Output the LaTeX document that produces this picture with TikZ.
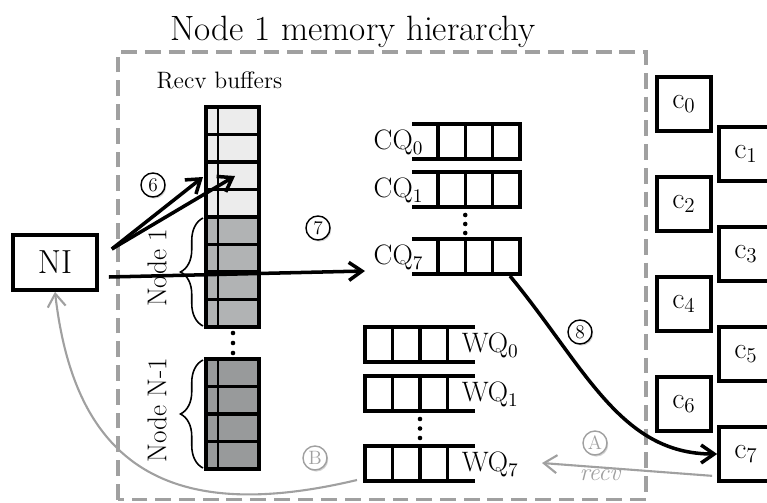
\documentclass[tikz,border=0pt]{standalone}
\usepackage{tikz}
\usetikzlibrary{calc,arrows.meta,decorations.pathreplacing,shadows}
\definecolor{bufA}{RGB}{236,236,236}
\definecolor{bufB}{RGB}{177,179,180}
\definecolor{bufC}{RGB}{152,154,155}
\definecolor{lineas}{RGB}{160,160,160}

\begin{document}
\begin{tikzpicture}[line width=2pt,>={Straight Barb[length=2.6mm,width=3.6mm]},
  caja/.style={draw,line width=2.1pt,minimum width=1.08cm,minimum height=1.08cm,inner sep=0pt,font=\fontsize{17}{17}\selectfont},
  paso/.style={circle,draw,line width=0.8pt,fill=white,inner sep=0pt,minimum size=0.48cm,font=\fontsize{11}{11}\selectfont,drop shadow={opacity=0.35,shadow xshift=0.7pt,shadow yshift=-0.9pt}},
  pasogris/.style={paso,draw=lineas,text=lineas},
  celda/.style={draw,line width=2pt},
  etiq/.style={inner sep=0pt,font=\fontsize{16}{16}\selectfont},
  llave/.style={decorate,decoration={brace,amplitude=0.45cm},line width=0.9pt},
  gris/.style={draw=lineas,line width=1.2pt}]
  \useasboundingbox (0,0) rectangle (15.34,10.04);
  \node[font=\fontsize{20}{22}\selectfont] (titulo) at (7.06,9.40) {Node 1 memory hierarchy};
  \draw[lineas,line width=2.2pt,dash pattern=on 9pt off 4.5pt] (2.36,0.05) rectangle (12.92,9.0);
  \node[anchor=west,font=\fontsize{13.5}{14}\selectfont] (recv) at (2.98,8.44) {Recv buffers};
  % buffers de recepcion
  \foreach \i in {0,...,3}{
    \draw[celda,fill=bufA] (4.12,7.90-0.55*\i) rectangle ++(1.06,-0.55);
    \draw[celda,fill=bufB] (4.12,5.70-0.55*\i) rectangle ++(1.06,-0.55);
    \draw[celda,fill=bufC] (4.12,2.86-0.55*\i) rectangle ++(1.06,-0.55);
  }
  \draw[line width=0.9pt] (4.36,7.90)--(4.36,3.50); \draw[line width=0.9pt] (4.36,2.86)--(4.36,0.66);
  \foreach \y in {3.38,3.18,2.98} \fill (4.66,\y) circle(1.3pt);
  \draw[llave] (4.06,3.52)--(4.06,5.68); \draw[llave] (4.06,0.68)--(4.06,2.84);
  \node[rotate=90,font=\fontsize{15.5}{16}\selectfont] (nodo1) at (3.14,4.68) {Node 1};
  \node[rotate=90,font=\fontsize{15.5}{16}\selectfont] (nodoN) at (3.14,1.84) {Node N-1};
  \node[draw,line width=2.1pt,minimum width=1.68cm,minimum height=1.10cm,font=\fontsize{19}{20}\selectfont] (NI) at (1.10,4.79) {NI};
  % colas CQ y WQ
  \foreach \t/\k in {7.56/0,6.60/1,5.26/7}{
    \draw (8.24,\t)--(10.395,\t)--(10.395,\t-0.70)--(8.24,\t-0.70);
    \foreach \x in {8.76,9.305,9.85} \draw (\x,\t)--(\x,\t-0.70);
    \node[etiq,anchor=east] (cq\k) at (8.50,\t-0.37) {CQ$_\k$};
  }
  \foreach \y in {5.74,5.56,5.38} \fill (9.305,\y) circle(1.3pt);
  \foreach \t/\k in {3.50/0,2.52/1,1.12/7}{
    \draw (9.50,\t)--(7.30,\t)--(7.30,\t-0.70)--(9.50,\t-0.70);
    \foreach \x in {7.85,8.40,8.95} \draw (\x,\t)--(\x,\t-0.70);
    \node[etiq,anchor=west] (wq\k) at (9.20,\t-0.37) {WQ$_\k$};
  }
  \foreach \y in {1.66,1.47,1.28} \fill (8.40,\y) circle(1.3pt);
  % nucleos
  \foreach \i in {0,...,7}{
    \pgfmathsetmacro{\cx}{isodd(\i) ? 14.92 : 13.68}
    \node[caja] (c\i) at (\cx,7.96-\i) {c$_\i$};
  }
  % flechas
  \coordinate (f6a) at (4.06,6.50); \coordinate (f6b) at (4.70,6.52);
  \coordinate (f7) at (7.30,4.62); \coordinate (s8) at (10.20,4.52);
  \coordinate (fA) at (10.84,0.78); \coordinate (sB) at (7.14,0.44);
  \draw[->] ($(NI.east)+(0.26,0.27)$)--(f6a);
  \draw[->] ($(NI.east)+(0.26,0.27)$)--(f6b);
  \draw[->] ($(NI.east)+(0.20,-0.29)$)--(f7);
  \draw[->] (s8) .. controls (11.7,2.7) and (12.4,0.96) .. (c7.west);
  \draw[gris,->] ($(c7.south west)+(-0.1,0.14)$)--(fA);
  \draw[gris,->] (sB) .. controls (3.4,-0.45) and (1.5,0.7) .. (NI.south);
  \node[paso] (p6) at (3.06,6.34) {6};
  \node[paso] (p7) at (6.36,5.48) {7};
  \node[paso] (p8) at (11.60,3.40) {8};
  \node[pasogris] (pA) at (11.90,1.18) {A};
  \node[pasogris] (pB) at (6.30,0.88) {B};
  \node[text=lineas,font=\itshape\fontsize{14}{14}\selectfont] (recvA) at (12.00,0.54) {recv};
\end{tikzpicture}
\end{document}
